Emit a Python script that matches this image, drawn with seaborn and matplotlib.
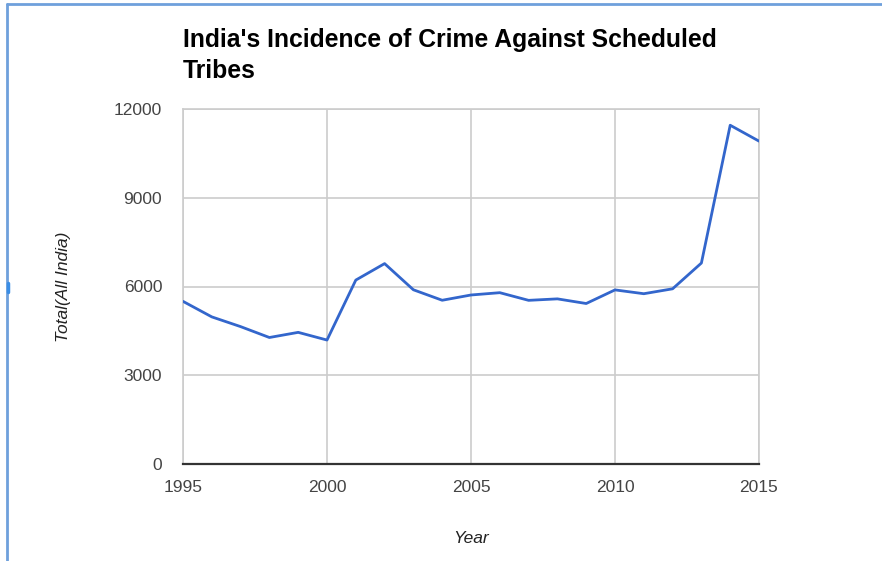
import matplotlib
matplotlib.use("Agg")
import matplotlib.pyplot as plt
import seaborn as sns
import pandas as pd
from matplotlib.lines import Line2D

years = list(range(1995, 2016))
totals = [5498, 4973, 4644, 4276, 4450, 4190, 6217, 6774, 5889, 5535,
          5713, 5791, 5532, 5582, 5425, 5885, 5756, 5922, 6793, 11451, 10914]
x_ticks = [1995, 2000, 2005, 2010, 2015]
y_ticks = [0, 3000, 6000, 9000, 12000]

title_lines = ["India's Incidence of Crime Against Scheduled", "Tribes"]

sns.set_style("white")
plt.rcParams['font.family'] = ['Liberation Sans', 'DejaVu Sans']

df = pd.DataFrame({"Year": years, "Total": totals})

fig = plt.figure(figsize=(8.82, 5.61), dpi=100)
ax = fig.add_axes([183/882, 1-464/561, (759-183)/882, (464-109)/561])

sns.lineplot(data=df, x="Year", y="Total", ax=ax, color="#3366cc", linewidth=2.0, zorder=3)

ax.set_xlim(1995, 2015)
ax.set_ylim(0, 12000)
ax.set_xticks(x_ticks)
ax.set_yticks(y_ticks)
ax.set_xticklabels([str(v) for v in x_ticks], fontsize=12.5, color="#444444")
ax.set_yticklabels([str(v) for v in y_ticks], fontsize=12.5, color="#444444")
ax.tick_params(axis='both', length=0)
ax.tick_params(axis='x', pad=11.5)
ax.tick_params(axis='y', pad=15)
ax.grid(True, color="#cccccc", linewidth=1.2)
ax.set_axisbelow(True)
for s in ["left", "top", "right"]:
    ax.spines[s].set_visible(True)
    ax.spines[s].set_color("#cccccc")
    ax.spines[s].set_linewidth(1.2)
ax.spines["bottom"].set_color("#333333")
ax.spines["bottom"].set_linewidth(1.6)
ax.spines["bottom"].set_zorder(4)

ax.set_xlabel("Year", fontsize=12.5, style="italic", color="#222222", labelpad=26)
ax.set_ylabel("Total(All India)", fontsize=12.5, style="italic", color="#222222", labelpad=31)

fig.text(183/882, 1-47/561, title_lines[0], fontsize=17.8, fontweight="bold", color="#000000",
         ha="left", va="baseline")
fig.text(183/882, 1-78/561, title_lines[1], fontsize=17.8, fontweight="bold", color="#000000",
         ha="left", va="baseline")

# screenshot frame
fig.add_artist(Line2D([7/882, 7/882], [0, 1-4/561], transform=fig.transFigure,
                      color="#6fa0dc", linewidth=2))
fig.add_artist(Line2D([7/882, 1], [1-4/561, 1-4/561], transform=fig.transFigure,
                      color="#6fa0dc", linewidth=2))
fig.add_artist(Line2D([8/882, 8/882], [1-283/561, 1-292/561], transform=fig.transFigure,
                      color="#3a8ee6", linewidth=2.5))

fig.savefig("out.png", dpi=100)
